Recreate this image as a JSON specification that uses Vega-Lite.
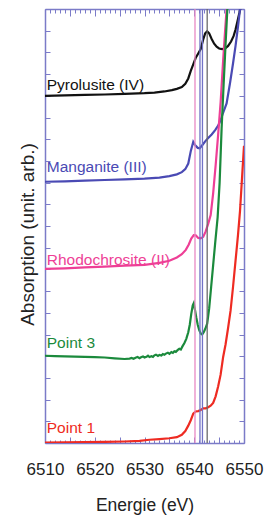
{
  "$schema": "https://vega.github.io/schema/vega-lite/v6.json",
  "autosize": {"type": "none"},
  "width": 199,
  "height": 434,
  "padding": {"left": 45, "top": 9, "right": 31, "bottom": 72},
  "background": "white",
  "config": {"view": {"stroke": null}, "font": "Liberation Sans"},
  "datasets": {
    "curves": [
      {"s": "Pyrolusite (IV)", "e": 6510, "a": 16.0},
      {"s": "Pyrolusite (IV)", "e": 6514, "a": 16.02},
      {"s": "Pyrolusite (IV)", "e": 6518, "a": 16.04},
      {"s": "Pyrolusite (IV)", "e": 6522, "a": 16.06},
      {"s": "Pyrolusite (IV)", "e": 6526, "a": 16.09},
      {"s": "Pyrolusite (IV)", "e": 6530, "a": 16.12},
      {"s": "Pyrolusite (IV)", "e": 6532, "a": 16.15},
      {"s": "Pyrolusite (IV)", "e": 6534, "a": 16.2},
      {"s": "Pyrolusite (IV)", "e": 6535.5, "a": 16.26},
      {"s": "Pyrolusite (IV)", "e": 6536.5, "a": 16.32},
      {"s": "Pyrolusite (IV)", "e": 6537.5, "a": 16.4},
      {"s": "Pyrolusite (IV)", "e": 6538.2, "a": 16.55},
      {"s": "Pyrolusite (IV)", "e": 6538.8, "a": 16.8},
      {"s": "Pyrolusite (IV)", "e": 6539.3, "a": 17.15},
      {"s": "Pyrolusite (IV)", "e": 6539.8, "a": 17.45},
      {"s": "Pyrolusite (IV)", "e": 6540.3, "a": 17.75},
      {"s": "Pyrolusite (IV)", "e": 6540.8, "a": 17.95},
      {"s": "Pyrolusite (IV)", "e": 6541.3, "a": 18.15},
      {"s": "Pyrolusite (IV)", "e": 6541.8, "a": 18.6},
      {"s": "Pyrolusite (IV)", "e": 6542.2, "a": 18.88},
      {"s": "Pyrolusite (IV)", "e": 6542.6, "a": 18.97},
      {"s": "Pyrolusite (IV)", "e": 6543.0, "a": 18.88},
      {"s": "Pyrolusite (IV)", "e": 6543.5, "a": 18.62},
      {"s": "Pyrolusite (IV)", "e": 6544.0, "a": 18.4},
      {"s": "Pyrolusite (IV)", "e": 6544.5, "a": 18.26},
      {"s": "Pyrolusite (IV)", "e": 6545.0, "a": 18.18},
      {"s": "Pyrolusite (IV)", "e": 6545.6, "a": 18.15},
      {"s": "Pyrolusite (IV)", "e": 6546.2, "a": 18.18},
      {"s": "Pyrolusite (IV)", "e": 6546.8, "a": 18.3},
      {"s": "Pyrolusite (IV)", "e": 6547.4, "a": 18.5},
      {"s": "Pyrolusite (IV)", "e": 6547.9, "a": 18.75},
      {"s": "Pyrolusite (IV)", "e": 6548.3, "a": 19.05},
      {"s": "Pyrolusite (IV)", "e": 6548.7, "a": 19.45},
      {"s": "Pyrolusite (IV)", "e": 6549.1, "a": 19.85},
      {"s": "Pyrolusite (IV)", "e": 6549.5, "a": 20.3},

      {"s": "Manganite (III)", "e": 6510, "a": 12.04},
      {"s": "Manganite (III)", "e": 6514, "a": 12.06},
      {"s": "Manganite (III)", "e": 6518, "a": 12.09},
      {"s": "Manganite (III)", "e": 6522, "a": 12.12},
      {"s": "Manganite (III)", "e": 6526, "a": 12.15},
      {"s": "Manganite (III)", "e": 6530, "a": 12.18},
      {"s": "Manganite (III)", "e": 6533, "a": 12.23},
      {"s": "Manganite (III)", "e": 6535, "a": 12.3},
      {"s": "Manganite (III)", "e": 6536.5, "a": 12.38},
      {"s": "Manganite (III)", "e": 6537.5, "a": 12.48},
      {"s": "Manganite (III)", "e": 6538.2, "a": 12.62},
      {"s": "Manganite (III)", "e": 6538.8, "a": 12.88},
      {"s": "Manganite (III)", "e": 6539.3, "a": 13.45},
      {"s": "Manganite (III)", "e": 6539.8, "a": 13.88},
      {"s": "Manganite (III)", "e": 6540.2, "a": 13.72},
      {"s": "Manganite (III)", "e": 6540.7, "a": 13.6},
      {"s": "Manganite (III)", "e": 6541.1, "a": 13.58},
      {"s": "Manganite (III)", "e": 6541.6, "a": 13.72},
      {"s": "Manganite (III)", "e": 6542.2, "a": 13.9},
      {"s": "Manganite (III)", "e": 6542.8, "a": 14.05},
      {"s": "Manganite (III)", "e": 6543.5, "a": 14.22},
      {"s": "Manganite (III)", "e": 6544.2, "a": 14.42},
      {"s": "Manganite (III)", "e": 6544.8, "a": 14.62},
      {"s": "Manganite (III)", "e": 6545.3, "a": 14.88},
      {"s": "Manganite (III)", "e": 6545.7, "a": 15.15},
      {"s": "Manganite (III)", "e": 6546.5, "a": 15.65},
      {"s": "Manganite (III)", "e": 6547.2, "a": 16.6},
      {"s": "Manganite (III)", "e": 6547.8, "a": 17.5},
      {"s": "Manganite (III)", "e": 6548.3, "a": 18.3},
      {"s": "Manganite (III)", "e": 6548.8, "a": 19.2},
      {"s": "Manganite (III)", "e": 6549.2, "a": 20.0},
      {"s": "Manganite (III)", "e": 6549.5, "a": 20.6},

      {"s": "Rhodochrosite (II)", "e": 6510, "a": 8.02},
      {"s": "Rhodochrosite (II)", "e": 6514, "a": 8.05},
      {"s": "Rhodochrosite (II)", "e": 6518, "a": 8.09},
      {"s": "Rhodochrosite (II)", "e": 6522, "a": 8.13},
      {"s": "Rhodochrosite (II)", "e": 6526, "a": 8.17},
      {"s": "Rhodochrosite (II)", "e": 6530, "a": 8.21},
      {"s": "Rhodochrosite (II)", "e": 6533, "a": 8.3},
      {"s": "Rhodochrosite (II)", "e": 6535, "a": 8.4},
      {"s": "Rhodochrosite (II)", "e": 6536.5, "a": 8.55},
      {"s": "Rhodochrosite (II)", "e": 6537.5, "a": 8.7},
      {"s": "Rhodochrosite (II)", "e": 6538.3, "a": 8.9},
      {"s": "Rhodochrosite (II)", "e": 6538.9, "a": 9.15},
      {"s": "Rhodochrosite (II)", "e": 6539.4, "a": 9.42},
      {"s": "Rhodochrosite (II)", "e": 6539.9, "a": 9.58},
      {"s": "Rhodochrosite (II)", "e": 6540.3, "a": 9.57},
      {"s": "Rhodochrosite (II)", "e": 6540.8, "a": 9.45},
      {"s": "Rhodochrosite (II)", "e": 6541.3, "a": 9.43},
      {"s": "Rhodochrosite (II)", "e": 6541.8, "a": 9.5},
      {"s": "Rhodochrosite (II)", "e": 6542.3, "a": 9.75},
      {"s": "Rhodochrosite (II)", "e": 6542.8, "a": 10.1},
      {"s": "Rhodochrosite (II)", "e": 6543.3, "a": 10.5},
      {"s": "Rhodochrosite (II)", "e": 6543.8, "a": 11.5},
      {"s": "Rhodochrosite (II)", "e": 6544.3, "a": 12.8},
      {"s": "Rhodochrosite (II)", "e": 6544.8, "a": 14.2},
      {"s": "Rhodochrosite (II)", "e": 6545.3, "a": 15.7},
      {"s": "Rhodochrosite (II)", "e": 6545.8, "a": 17.6},
      {"s": "Rhodochrosite (II)", "e": 6546.2, "a": 19.0},
      {"s": "Rhodochrosite (II)", "e": 6546.6, "a": 20.3},

      {"s": "Point 3", "e": 6510, "a": 4.02},
      {"s": "Point 3", "e": 6512, "a": 4.0},
      {"s": "Point 3", "e": 6514, "a": 3.99},
      {"s": "Point 3", "e": 6516, "a": 3.98},
      {"s": "Point 3", "e": 6518, "a": 3.97},
      {"s": "Point 3", "e": 6520, "a": 3.96},
      {"s": "Point 3", "e": 6522, "a": 3.94},
      {"s": "Point 3", "e": 6524, "a": 3.9},
      {"s": "Point 3", "e": 6526, "a": 3.87},
      {"s": "Point 3", "e": 6527, "a": 3.89},
      {"s": "Point 3", "e": 6527.4, "a": 3.92},
      {"s": "Point 3", "e": 6527.8, "a": 3.88},
      {"s": "Point 3", "e": 6528.2, "a": 3.93},
      {"s": "Point 3", "e": 6528.6, "a": 3.96},
      {"s": "Point 3", "e": 6529, "a": 3.91},
      {"s": "Point 3", "e": 6529.3, "a": 3.95},
      {"s": "Point 3", "e": 6529.7, "a": 3.99},
      {"s": "Point 3", "e": 6530, "a": 3.94},
      {"s": "Point 3", "e": 6530.4, "a": 3.97},
      {"s": "Point 3", "e": 6530.7, "a": 4.02},
      {"s": "Point 3", "e": 6531, "a": 3.96},
      {"s": "Point 3", "e": 6531.4, "a": 4.0},
      {"s": "Point 3", "e": 6531.7, "a": 3.97},
      {"s": "Point 3", "e": 6532, "a": 4.04},
      {"s": "Point 3", "e": 6532.3, "a": 4.07},
      {"s": "Point 3", "e": 6532.7, "a": 4.01},
      {"s": "Point 3", "e": 6533, "a": 4.06},
      {"s": "Point 3", "e": 6533.4, "a": 4.03},
      {"s": "Point 3", "e": 6533.7, "a": 4.1},
      {"s": "Point 3", "e": 6534, "a": 4.07},
      {"s": "Point 3", "e": 6534.3, "a": 4.12},
      {"s": "Point 3", "e": 6534.7, "a": 4.16},
      {"s": "Point 3", "e": 6535, "a": 4.11},
      {"s": "Point 3", "e": 6535.4, "a": 4.19},
      {"s": "Point 3", "e": 6535.7, "a": 4.15},
      {"s": "Point 3", "e": 6536, "a": 4.23},
      {"s": "Point 3", "e": 6536.3, "a": 4.2},
      {"s": "Point 3", "e": 6536.7, "a": 4.29},
      {"s": "Point 3", "e": 6537, "a": 4.34},
      {"s": "Point 3", "e": 6537.3, "a": 4.31},
      {"s": "Point 3", "e": 6537.6, "a": 4.44},
      {"s": "Point 3", "e": 6538, "a": 4.6},
      {"s": "Point 3", "e": 6538.4, "a": 4.8},
      {"s": "Point 3", "e": 6538.8, "a": 5.1},
      {"s": "Point 3", "e": 6539.1, "a": 5.45},
      {"s": "Point 3", "e": 6539.4, "a": 5.95},
      {"s": "Point 3", "e": 6539.7, "a": 6.35},
      {"s": "Point 3", "e": 6539.9, "a": 6.45},
      {"s": "Point 3", "e": 6540.1, "a": 6.2},
      {"s": "Point 3", "e": 6540.4, "a": 5.8},
      {"s": "Point 3", "e": 6540.7, "a": 5.45},
      {"s": "Point 3", "e": 6541.0, "a": 5.2},
      {"s": "Point 3", "e": 6541.3, "a": 5.05},
      {"s": "Point 3", "e": 6541.6, "a": 5.0},
      {"s": "Point 3", "e": 6541.9, "a": 5.1},
      {"s": "Point 3", "e": 6542.2, "a": 5.25},
      {"s": "Point 3", "e": 6542.6, "a": 5.5},
      {"s": "Point 3", "e": 6543.0, "a": 6.2},
      {"s": "Point 3", "e": 6543.4, "a": 7.2},
      {"s": "Point 3", "e": 6543.8, "a": 8.2},
      {"s": "Point 3", "e": 6544.2, "a": 9.2},
      {"s": "Point 3", "e": 6544.7, "a": 10.4},
      {"s": "Point 3", "e": 6545.1, "a": 12.0},
      {"s": "Point 3", "e": 6545.5, "a": 14.5},
      {"s": "Point 3", "e": 6545.9, "a": 16.5},
      {"s": "Point 3", "e": 6546.3, "a": 18.4},
      {"s": "Point 3", "e": 6546.7, "a": 20.2},

      {"s": "Point 1", "e": 6510, "a": 0.02},
      {"s": "Point 1", "e": 6514, "a": 0.03},
      {"s": "Point 1", "e": 6518, "a": 0.04},
      {"s": "Point 1", "e": 6522, "a": 0.05},
      {"s": "Point 1", "e": 6526, "a": 0.07},
      {"s": "Point 1", "e": 6529, "a": 0.1},
      {"s": "Point 1", "e": 6531, "a": 0.15},
      {"s": "Point 1", "e": 6533, "a": 0.18},
      {"s": "Point 1", "e": 6535, "a": 0.22},
      {"s": "Point 1", "e": 6536.5, "a": 0.27},
      {"s": "Point 1", "e": 6537.5, "a": 0.38},
      {"s": "Point 1", "e": 6538.2, "a": 0.55},
      {"s": "Point 1", "e": 6538.8, "a": 0.8},
      {"s": "Point 1", "e": 6539.3, "a": 1.05},
      {"s": "Point 1", "e": 6539.8, "a": 1.35},
      {"s": "Point 1", "e": 6540.3, "a": 1.45},
      {"s": "Point 1", "e": 6540.8, "a": 1.47},
      {"s": "Point 1", "e": 6541.3, "a": 1.52},
      {"s": "Point 1", "e": 6541.8, "a": 1.6},
      {"s": "Point 1", "e": 6542.3, "a": 1.6},
      {"s": "Point 1", "e": 6542.8, "a": 1.65},
      {"s": "Point 1", "e": 6543.3, "a": 1.72},
      {"s": "Point 1", "e": 6543.8, "a": 1.85},
      {"s": "Point 1", "e": 6544.3, "a": 2.15},
      {"s": "Point 1", "e": 6544.8, "a": 2.6},
      {"s": "Point 1", "e": 6545.3, "a": 3.15},
      {"s": "Point 1", "e": 6545.8, "a": 3.95},
      {"s": "Point 1", "e": 6546.3, "a": 4.55},
      {"s": "Point 1", "e": 6546.8, "a": 5.3},
      {"s": "Point 1", "e": 6547.3, "a": 6.1},
      {"s": "Point 1", "e": 6547.8, "a": 7.2},
      {"s": "Point 1", "e": 6548.3, "a": 8.4},
      {"s": "Point 1", "e": 6548.8, "a": 9.6},
      {"s": "Point 1", "e": 6549.2, "a": 10.7},
      {"s": "Point 1", "e": 6549.6, "a": 12.2},
      {"s": "Point 1", "e": 6550, "a": 13.7}
    ],
    "refs": [
      {"s": "ref II", "e": 6540.15},
      {"s": "ref III a", "e": 6541.15},
      {"s": "ref III b", "e": 6541.65},
      {"s": "ref IV", "e": 6542.6}
    ],
    "labels": [
      {"s": "Pyrolusite (IV)", "e": 6510.35, "a": 16.25},
      {"s": "Manganite (III)", "e": 6510.35, "a": 12.5},
      {"s": "Rhodochrosite (II)", "e": 6510.35, "a": 8.2},
      {"s": "Point 3", "e": 6510.35, "a": 4.36},
      {"s": "Point 1", "e": 6510.35, "a": 0.45}
    ]
  },
  "resolve": {"axis": {"x": "independent", "y": "independent"}},
  "layer": [
    {
      "data": {"name": "curves"},
      "mark": {"type": "line", "strokeWidth": 2.2, "clip": true, "interpolate": "linear"},
      "encoding": {
        "x": {
          "field": "e", "type": "quantitative",
          "scale": {"domain": [6510, 6550], "nice": false, "zero": false},
          "axis": {
            "orient": "bottom",
            "values": [6510,6511,6512,6513,6514,6515,6516,6517,6518,6519,6520,6521,6522,6523,6524,6525,6526,6527,6528,6529,6530,6531,6532,6533,6534,6535,6536,6537,6538,6539,6540,6541,6542,6543,6544,6545,6546,6547,6548,6549,6550],
            "labelExpr": "datum.value % 10 === 0 ? datum.label : ''",
            "format": "d",
            "tickSize": {"condition": {"test": "datum.value % 5 === 0", "value": -6}, "value": -3},
            "tickColor": "#7b7bc8",
            "tickWidth": 1,
            "domainColor": "#7b7bc8",
            "domainWidth": 1.5,
            "labelPadding": 24,
            "labelFlush": false,
            "labelOverlap": false,
            "labelFontSize": 17,
            "labelColor": "#222222",
            "labelFont": "Liberation Sans",
            "title": "Energie (eV)",
            "titleFont": "Liberation Sans",
            "titleFontSize": 17.5,
            "titleFontWeight": "normal",
            "titleColor": "#222222",
            "titlePadding": 16,
            "grid": false
          }
        },
        "y": {
          "field": "a", "type": "quantitative",
          "scale": {"domain": [0, 20], "nice": false, "zero": false},
          "axis": {
            "orient": "left",
            "values": [0,1,2,3,4,5,6,7,8,9,10,11,12,13,14,15,16,17,18,19,20],
            "labels": false,
            "tickSize": -5,
            "tickColor": "#7b7bc8",
            "domainColor": "#7b7bc8",
            "domainWidth": 1.5,
            "title": "Absorption (unit. arb.)",
            "titleFont": "Liberation Sans",
            "titleFontSize": 19,
            "titleFontWeight": "normal",
            "titleColor": "#222222",
            "titlePadding": 7,
            "titleY": 225,
            "grid": false
          }
        },
        "color": {
          "field": "s", "type": "nominal", "legend": null,
          "scale": {
            "domain": ["Pyrolusite (IV)", "Manganite (III)", "Rhodochrosite (II)", "Point 3", "Point 1", "ref II", "ref III a", "ref III b", "ref IV"],
            "range": ["#111111", "#4a4ab4", "#ee3f96", "#1b8a3c", "#ee2b22", "#e889c4", "#7272c6", "#7272c6", "#6a6a6a"]
          }
        },
        "detail": {"field": "s"}
      }
    },
    {
      "data": {"name": "refs"},
      "mark": {"type": "rule", "strokeWidth": 1.3},
      "encoding": {
        "x": {
          "field": "e", "type": "quantitative",
          "axis": {
            "orient": "top",
            "values": [6510,6511,6512,6513,6514,6515,6516,6517,6518,6519,6520,6521,6522,6523,6524,6525,6526,6527,6528,6529,6530,6531,6532,6533,6534,6535,6536,6537,6538,6539,6540,6541,6542,6543,6544,6545,6546,6547,6548,6549,6550],
            "labels": false,
            "tickSize": {"condition": {"test": "datum.value % 5 === 0", "value": -7}, "value": -4},
            "tickColor": "#7b7bc8",
            "domainColor": "#7b7bc8",
            "domainWidth": 1.5,
            "title": null,
            "grid": false
          }
        },
        "color": {"field": "s", "type": "nominal", "legend": null}
      }
    },
    {
      "data": {"name": "labels"},
      "mark": {"type": "text", "align": "left", "baseline": "alphabetic", "font": "Liberation Sans", "fontSize": 15.5},
      "encoding": {
        "x": {"field": "e", "type": "quantitative", "axis": null},
        "y": {
          "field": "a", "type": "quantitative",
          "axis": {
            "orient": "right",
            "values": [0,1,2,3,4,5,6,7,8,9,10,11,12,13,14,15,16,17,18,19,20],
            "labels": false,
            "tickSize": -5,
            "tickColor": "#7b7bc8",
            "domainColor": "#7b7bc8",
            "domainWidth": 1.5,
            "title": null,
            "grid": false
          }
        },
        "text": {"field": "s"},
        "color": {"field": "s", "type": "nominal", "legend": null}
      }
    }
  ]
}
